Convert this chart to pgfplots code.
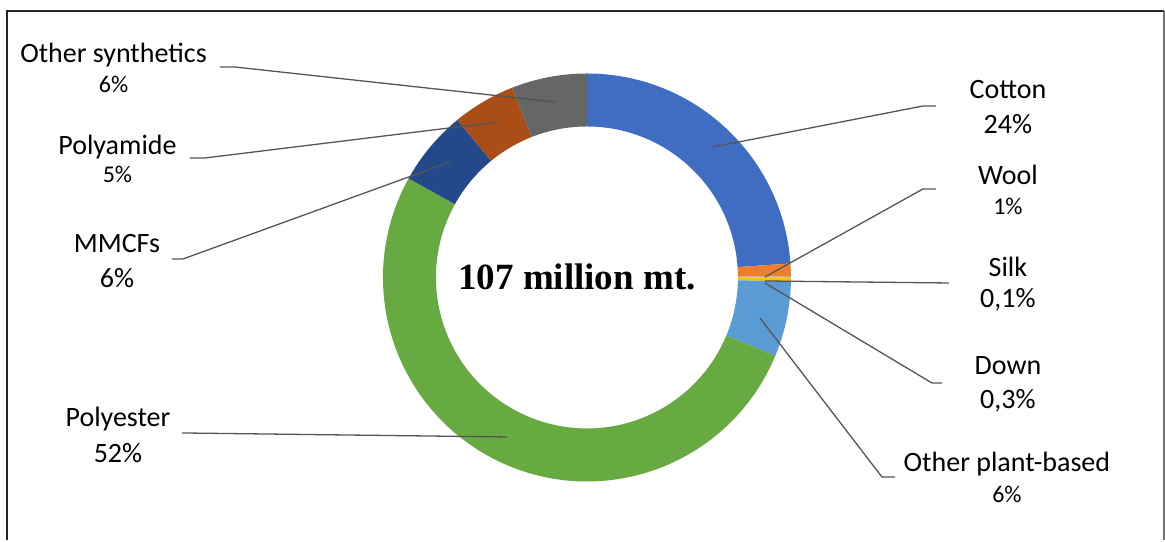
\documentclass[border=0pt]{standalone}
\usepackage{pgfplots}
\pgfplotsset{compat=1.18}
\usepackage{pgfplotstable}
\usepackage{fontspec}
\setmainfont{Carlito}
\newfontfamily\centerfont{Liberation Serif}
\definecolor{sl0}{HTML}{3F6DC2}
\definecolor{sl1}{HTML}{ED7D31}
\definecolor{sl2}{HTML}{A5A5A5}
\definecolor{sl3}{HTML}{FFC000}
\definecolor{sl4}{HTML}{5B9BD5}
\definecolor{sl5}{HTML}{68AA42}
\definecolor{sl6}{HTML}{24498A}
\definecolor{sl7}{HTML}{A84E16}
\definecolor{sl8}{HTML}{666666}
\definecolor{leader}{HTML}{555555}

\pgfplotstableread{
name value
Cotton 24
Wool 1
Silk 0.1
Down 0.3
OtherPlant 6
Polyester 52
MMCFs 6
Polyamide 5
OtherSynthetics 6
}\fibres

\def\Rout{102pt}
\def\Rin{75.5pt}

\begin{document}
\begin{tikzpicture}
\begin{axis}[
  x=0.5pt, y=0.5pt,
  xmin=0, xmax=1165, ymin=0, ymax=540,
  scale only axis, hide axis, clip=false,
]
\path (axis cs:0,0) rectangle (axis cs:1165,540);
% ring
\pgfmathsetmacro{\tot}{100.4}
\def\cum{0}
\pgfplotsforeachungrouped \i in {0,...,8}{%
  \pgfplotstablegetelem{\i}{value}\of\fibres
  \pgfmathsetmacro{\a}{90-\cum/\tot*360}%
  \pgfmathsetmacro{\cumnew}{\cum+\pgfplotsretval}%
  \pgfmathsetmacro{\b}{90-\cumnew/\tot*360}%
  \global\let\cum\cumnew
  \edef\temp{\noexpand\fill[sl\i] ([shift={(\a:\Rin)}]axis cs:587,262.5) -- ([shift={(\a:\Rout)}]axis cs:587,262.5) arc[start angle=\a, end angle=\b, radius=\Rout] -- ([shift={(\b:\Rin)}]axis cs:587,262.5) arc[start angle=\b, end angle=\a, radius=\Rin] -- cycle;}%
  \temp
}

% frame
\draw[line width=1.1pt, black!85] (axis cs:7,0) -- (axis cs:7,529) -- (axis cs:1164,529);
\draw[line width=0.8pt, black!55] (axis cs:1164,529) -- (axis cs:1164,0);

% leader lines
\begin{scope}[leader, line width=0.65pt]
\draw (axis cs:220,473) -- (axis cs:235,473) -- (axis cs:555,438);
\draw (axis cs:190,382) -- (axis cs:205,382) -- (axis cs:498,418);
\draw (axis cs:172,281) -- (axis cs:183,281) -- (axis cs:450,378);
\draw (axis cs:182,107) -- (axis cs:507,103);
\draw (axis cs:713,393) -- (axis cs:923,434) -- (axis cs:936,434);
\draw (axis cs:765,263) -- (axis cs:923,351) -- (axis cs:936,351);
\draw (axis cs:765,259) -- (axis cs:949,257);
\draw (axis cs:765,257) -- (axis cs:932,157) -- (axis cs:942,157);
\draw (axis cs:760,222) -- (axis cs:882,63) -- (axis cs:895,63);
\end{scope}

% centre text
\node[anchor=base, font=\centerfont\bfseries\fontsize{18.5}{20}\selectfont] at (axis cs:577,250) {107 million mt.};

% labels
\tikzset{lbl/.style={anchor=base, inner sep=0pt, font=\fontsize{14}{16}\selectfont, text=black},
         sml/.style={anchor=base, inner sep=0pt, font=\fontsize{12}{14}\selectfont, text=black}}
\node[lbl] at (axis cs:113.5,477) {Other synthetics};
\node[sml] at (axis cs:113.5,447) {6\%};
\node[lbl] at (axis cs:117.5,385) {Polyamide};
\node[sml] at (axis cs:117.5,357) {5\%};
\node[lbl] at (axis cs:117,287) {MMCFs};
\node[lbl] at (axis cs:117,252) {6\%};
\node[lbl] at (axis cs:118,113) {Polyester};
\node[lbl] at (axis cs:118,77) {52\%};

\node[lbl] at (axis cs:1008,441) {Cotton};
\node[lbl] at (axis cs:1008,406) {24\%};
\node[lbl] at (axis cs:1008,355) {Wool};
\node[sml] at (axis cs:1008,325) {1\%};
\node[lbl] at (axis cs:1008,263) {Silk};
\node[lbl] at (axis cs:1008,232) {0,1\%};
\node[lbl] at (axis cs:1008,165) {Down};
\node[lbl] at (axis cs:1008,131) {0,3\%};
\node[lbl] at (axis cs:1007,68) {Other plant-based};
\node[sml] at (axis cs:1007,37) {6\%};
\end{axis}
\end{tikzpicture}
\end{document}
